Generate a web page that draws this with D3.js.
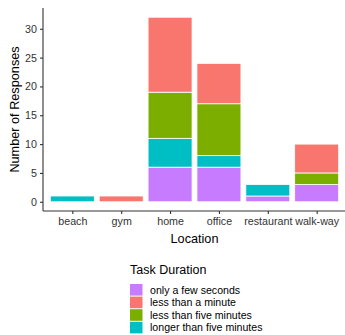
<!DOCTYPE html>
<html lang="en">
<head>
<meta charset="UTF-8">
<script src="https://d3js.org/d3.v7.min.js"></script>
<style>
  html, body { margin: 0; background: #fff; overflow: hidden; }
  text { font-family: "Liberation Sans", Arial, sans-serif; }
</style>
</head>
<body>
<svg id="svg" width="345" height="335"></svg>
<script>
const locations = ['beach', 'gym', 'home', 'office', 'restaurant', 'walk-way'];
// legend order
const durations = ['only a few seconds', 'less than a minute', 'less than five minutes', 'longer than five minutes'];
const colors = ['#C77CFF', '#F8766D', '#7CAE00', '#00BFC4'];
// counts per location, one array per duration
const fewSeconds   = [0, 0, 6, 6, 1, 3];
const lessMinute   = [0, 1, 13, 7, 0, 5];
const lessFive     = [0, 0, 8, 9, 0, 2];
const longerFive   = [1, 0, 5, 2, 2, 0];
// stacking order from the bottom up
const stackOrder = ['only a few seconds', 'longer than five minutes', 'less than five minutes', 'less than a minute'];
const yTicks = [0, 5, 10, 15, 20, 25, 30];

const svg = d3.select('#svg');
const margin = { top: 8, left: 43, bottom: 124, right: 0 };
const width = 345, height = 335;
const innerW = 303, innerH = height - margin.top - margin.bottom; // ~203

const rows = locations.map((loc, i) => ({
  location: loc,
  'only a few seconds': fewSeconds[i],
  'less than a minute': lessMinute[i],
  'less than five minutes': lessFive[i],
  'longer than five minutes': longerFive[i]
}));

const series = d3.stack().keys(stackOrder)(rows);
const maxY = d3.max(series[series.length - 1], d => d[1]);

const color = d3.scaleOrdinal().domain(durations).range(colors);

// ggplot-like expansion: 0.6 units on discrete axis, 5% on continuous
const step = innerW / (locations.length - 1 + 1.2);
const x = d3.scalePoint().domain(locations)
  .range([margin.left + 0.6 * step, margin.left + innerW - 0.6 * step]);
const barW = step * 0.9;
const pad = maxY * 0.05;
const y = d3.scaleLinear().domain([-pad, maxY + pad]).range([margin.top + innerH, margin.top]);

const g = svg.append('g');
g.selectAll('g.layer').data(series).join('g')
  .attr('class', 'layer')
  .attr('fill', d => color(d.key))
  .selectAll('rect').data(d => d.filter(v => v[1] > v[0])).join('rect')
  .attr('x', d => x(d.data.location) - barW / 2)
  .attr('width', barW)
  .attr('y', d => y(d[1]))
  .attr('height', d => y(d[0]) - y(d[1]))
  .attr('stroke', '#fff')
  .attr('stroke-width', 0.8);

// axes
const yAxis = svg.append('g')
  .attr('transform', `translate(${margin.left},0)`)
  .call(d3.axisLeft(y).tickValues(yTicks).tickSize(3).tickPadding(3));
const xAxis = svg.append('g')
  .attr('transform', `translate(0,${margin.top + innerH})`)
  .call(d3.axisBottom(x).tickSize(3).tickPadding(3));

[yAxis, xAxis].forEach(a => {
  a.select('.domain').attr('stroke', '#333').attr('stroke-width', 1.1);
  a.selectAll('.tick line').attr('stroke', '#333').attr('stroke-width', 1.1);
  a.selectAll('.tick text').attr('fill', '#333').style('font-size', '10.7px');
});
xAxis.select('.domain').attr('d', `M${margin.left},0H${margin.left + innerW}`);
yAxis.select('.domain').attr('d', `M0,${margin.top}V${margin.top + innerH}`);

// axis titles
svg.append('text')
  .attr('transform', `translate(19,${margin.top + innerH / 2}) rotate(-90)`)
  .attr('text-anchor', 'middle')
  .style('font-size', '12.7px')
  .attr('fill', '#000')
  .text('Number of Responses');

svg.append('text')
  .attr('x', margin.left + innerW / 2)
  .attr('y', 243)
  .attr('text-anchor', 'middle')
  .style('font-size', '12.7px')
  .attr('fill', '#000')
  .text('Location');

// legend
const legend = svg.append('g').attr('transform', 'translate(130,0)');
legend.append('text')
  .attr('x', 0).attr('y', 274)
  .style('font-size', '12.5px')
  .text('Task Duration');
const items = legend.selectAll('g.item').data(durations).join('g')
  .attr('class', 'item')
  .attr('transform', (d, i) => `translate(0,${284 + i * 12.6})`);
items.append('rect')
  .attr('width', 12.5).attr('height', 11.6)
  .attr('fill', d => color(d));
items.append('text')
  .attr('x', 20).attr('y', 9.6)
  .style('font-size', '10.6px')
  .text(d => d);
</script>
</body>
</html>
